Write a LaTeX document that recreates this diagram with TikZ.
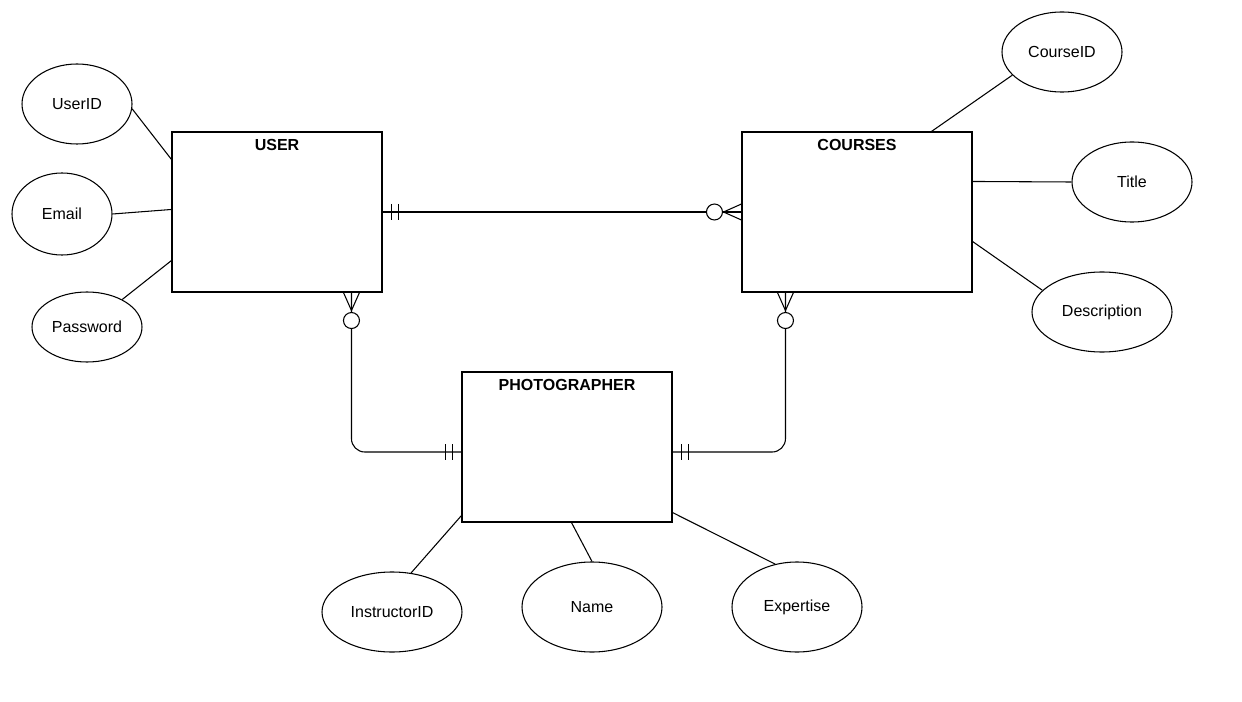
\documentclass[tikz,border=0pt]{standalone}
\usepackage{fontspec}
\setmainfont{Liberation Sans}
\usetikzlibrary{shapes.geometric,calc}
\begin{document}
\begin{tikzpicture}[x=0.75pt,y=-0.75pt,line width=0.8pt,
  entity/.style={draw,rectangle,inner sep=0pt},
  etitle/.style={font=\fontsize{12pt}{14pt}\selectfont\bfseries,inner sep=0pt},
  attr/.style={draw,ellipse,inner sep=0pt,font=\fontsize{12pt}{14pt}\selectfont},
  optc/.style={draw,circle,fill=white,inner sep=0pt,minimum size=12pt},
  rel/.style={draw},
]
\useasboundingbox (0,0) rectangle (1242,702);
% entities
\node[entity,minimum width=157.5pt,minimum height=120pt] (user) at (277,212) {};
\node[etitle] (usert) at (277,145) {USER};
\node[entity,minimum width=172.5pt,minimum height=120pt] (courses) at (857,212) {};
\node[etitle] (coursest) at (857,145) {COURSES};
\node[entity,minimum width=157.5pt,minimum height=112.5pt] (photo) at (567,447) {};
\node[etitle] (photot) at (567,385) {PHOTOGRAPHER};
% attributes
\node[attr,minimum width=82.5pt,minimum height=60pt] (userid) at (77,104) {UserID};
\node[attr,minimum width=75pt,minimum height=61.5pt] (email) at (62,214) {Email};
\node[attr,minimum width=82.5pt,minimum height=52.5pt] (password) at (87,327) {Password};
\node[attr,minimum width=90pt,minimum height=60pt] (courseid) at (1062,52) {CourseID};
\node[attr,minimum width=90pt,minimum height=60pt] (title) at (1132,182) {Title};
\node[attr,minimum width=105pt,minimum height=60pt] (desc) at (1102,312) {Description};
\node[attr,minimum width=105pt,minimum height=60pt] (instr) at (392,612) {InstructorID};
\node[attr,minimum width=105pt,minimum height=67.5pt] (name) at (592,607) {Name};
\node[attr,minimum width=97.5pt,minimum height=67.5pt] (expert) at (797,607) {Expertise};
% attribute links
\draw (userid.-5) -- ($(user.north west)+(0,28)$);
\draw (email.east) -- ($(user.north west)+(0,78)$);
\draw (password.38) -- ($(user.south west)+(0,-32)$);
\draw (courseid.205) -- ($(courses.north west)+(190,0)$);
\draw (title.west) -- ($(courses.north east)+(0,50)$);
\draw (desc.160) -- ($(courses.north east)+(0,110)$);
\draw (instr.64) -- ($(photo.south west)+(0,-7)$);
\draw (name.north) -- ($(photo.south west)+(110,0)$);
\draw (expert.117) -- ($(photo.south east)+(0,-10)$);
% relationship USER - COURSES
\draw (user.east) -- (courses.west);
\draw ($(user.east)+(9,-8)$) -- ++(0,16);
\draw ($(user.east)+(16,-8)$) -- ++(0,16);
\coordinate (cf1) at ($(courses.west)+(-18,0)$);
\draw ($(courses.west)+(0,-8)$) -- (cf1) -- ($(courses.west)+(0,8)$);
\node[optc] (o1) at ($(courses.west)+(-27,0)$) {};
% relationship USER - PHOTOGRAPHER
\coordinate (u2) at ($(user.south west)+(180,0)$);
\coordinate (p2) at ($(photo.west)+(0,5)$);
\draw[rounded corners=10pt] (u2) |- (p2);
\coordinate (cf2) at ($(u2)+(0,18)$);
\draw ($(u2)+(-8,0)$) -- (cf2) -- ($(u2)+(8,0)$);
\node[optc] (o2) at ($(u2)+(0,28)$) {};
\draw ($(p2)+(-16,-8)$) -- ++(0,16);
\draw ($(p2)+(-9,-8)$) -- ++(0,16);
% relationship COURSES - PHOTOGRAPHER
\coordinate (c3) at ($(courses.south west)+(44,0)$);
\coordinate (p3) at ($(photo.east)+(0,5)$);
\draw[rounded corners=10pt] (c3) |- (p3);
\coordinate (cf3) at ($(c3)+(0,18)$);
\draw ($(c3)+(-8,0)$) -- (cf3) -- ($(c3)+(8,0)$);
\node[optc] (o3) at ($(c3)+(0,28)$) {};
\draw ($(p3)+(9,-8)$) -- ++(0,16);
\draw ($(p3)+(16,-8)$) -- ++(0,16);
\end{tikzpicture}
\end{document}
